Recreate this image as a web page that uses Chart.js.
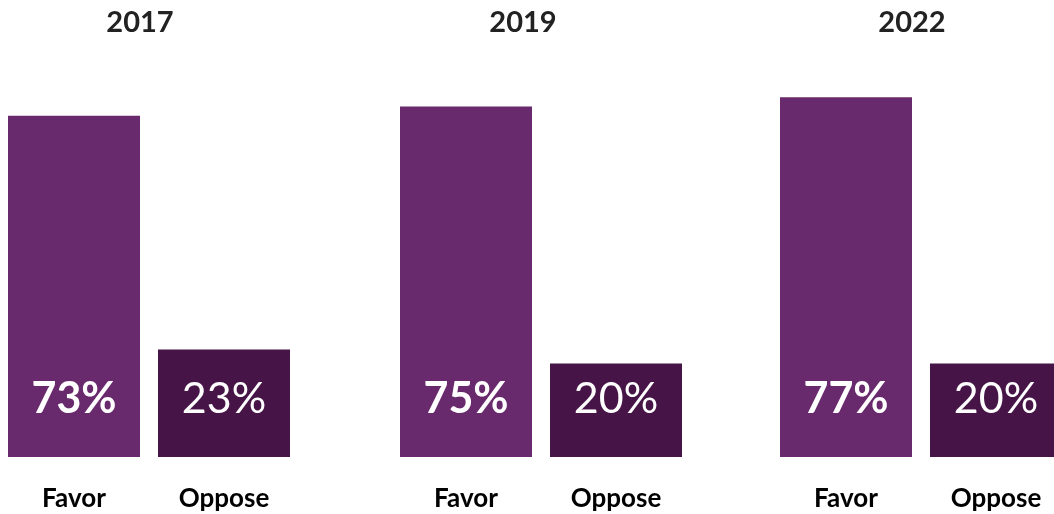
<!DOCTYPE html>
<html>
<head>
<meta charset="utf-8">
<script src="https://cdn.jsdelivr.net/npm/chart.js@4/dist/chart.umd.min.js"></script>
<style>
    html, body { margin: 0; padding: 0; background: #fff; overflow: hidden; }
    #wrap { position: relative; width: 1054px; height: 514px; overflow: hidden; }
    #wrap canvas { position: absolute; top: 0; }
</style>
</head>
<body>
<div id="wrap">
    <canvas id="c2017" width="318" height="514" style="left:-19px"></canvas>
    <canvas id="c2019" width="336" height="514" style="left:355px"></canvas>
    <canvas id="c2022" width="318" height="514" style="left:753px"></canvas>
</div>
<script>
// data
const years = ["2017", "2019", "2022"];
const responses = ["Favor", "Oppose"];
const favorValues = [73, 75, 77];
const opposeValues = [23, 20, 20];

const favorColor = '#69296d';
const opposeColor = '#471447';
const fontFamily = "Lato, 'Noto Sans', sans-serif";

// draws the percent inside each bar, near the bottom
const barLabels = {
    id: 'barLabels',
    afterDatasetsDraw(chart) {
        const ctx = chart.ctx;
        const meta = chart.getDatasetMeta(0);
        ctx.save();
        ctx.fillStyle = '#fff';
        ctx.textAlign = 'center';
        ctx.textBaseline = 'middle';
        meta.data.forEach((bar, i) => {
            const weight = i === 0 ? 'bold' : 'normal';
            ctx.font = weight + ' 43px ' + fontFamily;
            ctx.fillText(chart.data.datasets[0].data[i] + '%', bar.x, bar.base - 58);
        });
        ctx.restore();
    }
};

// layout per panel: width of the empty left gutter (keeps the year slightly left)
const gutters = [18, 36, 18];

years.forEach((year, i) => {
    const ctx = document.getElementById('c' + year).getContext('2d');
    new Chart(ctx, {
        type: 'bar',
        data: {
            labels: responses,
            datasets: [{
                data: [favorValues[i], opposeValues[i]],
                backgroundColor: [favorColor, opposeColor],
                borderWidth: 0,
                barPercentage: 0.88,
                categoryPercentage: 1
            }]
        },
        options: {
            responsive: false,
            animation: false,
            devicePixelRatio: 1,
            layout: { padding: { top: 0, left: 0, right: 0, bottom: 2 } },
            plugins: {
                legend: { display: false },
                tooltip: { enabled: false },
                title: {
                    display: true,
                    text: year,
                    color: '#222',
                    font: { family: fontFamily, size: 29, weight: 'bold', lineHeight: 1.2 },
                    padding: { top: 5, bottom: 34 }
                }
            },
            scales: {
                x: {
                    grid: { display: false, drawTicks: false },
                    border: { display: false },
                    ticks: {
                        color: '#000',
                        padding: 26,
                        font: { family: fontFamily, size: 26, weight: 'bold', lineHeight: 1.2 }
                    },
                    afterFit(scale) { scale.height = 55; }
                },
                y: {
                    min: 0,
                    max: 82,
                    grid: { display: false },
                    border: { display: false },
                    ticks: { display: false },
                    afterFit(scale) { scale.width = gutters[i]; }
                }
            }
        },
        plugins: [barLabels]
    });
});
</script>
</body>
</html>
